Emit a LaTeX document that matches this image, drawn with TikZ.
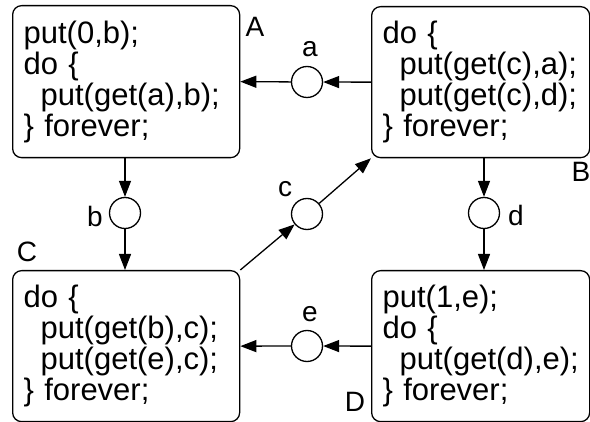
\documentclass[tikz,border=0pt]{standalone}
\usepackage{fontspec}
\setmainfont{Liberation Sans}
\usetikzlibrary{arrows.meta,positioning}

\newcommand{\ind}{\hspace*{17pt}}

\begin{document}
\begin{tikzpicture}[x=1pt,y=1pt,line width=1.3pt,
	proc/.style={draw,rounded corners=9pt,align=left,anchor=north west,inner xsep=11pt,inner ysep=0pt,font=\fontsize{31}{31}\selectfont},
	chan/.style={draw,circle,minimum size=31pt,inner sep=0pt},
	lbl/.style={inner sep=0pt,font=\fontsize{28}{28}\selectfont},
	>={Triangle[length=16pt,width=12pt]}]
		\useasboundingbox (0,0) rectangle (590,-422);

		% the four processes
		\node[proc,text width=205pt,minimum height=152pt] (A) at (12,-5) {put(0,b);\\do \{\\\ind put(get(a),b);\\\} forever;};
		\node[proc,text width=196pt,minimum height=151pt] (B) at (371,-6) {do \{\\\ind put(get(c),a);\\\ind put(get(c),d);\\\} forever;};
		\node[proc,text width=205pt,minimum height=151pt] (C) at (12,-270) {do \{\\\ind put(get(b),c);\\\ind put(get(e),c);\\\} forever;};
		\node[proc,text width=196pt,minimum height=151pt] (D) at (371,-270) {put(1,e);\\do \{\\\ind put(get(d),e);\\\} forever;};

		\node[lbl] (labA) at (255,-27) {A};
		\node[lbl] (labB) at (581,-172) {B};
		\node[lbl] (labC) at (27,-252) {C};
		\node[lbl] (labD) at (355,-402) {D};

		% channels
		\node[chan] (a) at (307,-82) {};
		\node[chan] (b) at (125,-213) {};
		\node[chan] (c) at (307,-214) {};
		\node[chan] (d) at (484,-213) {};
		\node[chan] (e) at (307,-346) {};

		\node[lbl] (laba) at (310,-49) {a};
		\node[lbl] (labb) at (95,-216) {b};
		\node[lbl] (labc) at (285,-189) {c};
		\node[lbl] (labd) at (516,-215) {d};
		\node[lbl] (labe) at (310,-314) {e};

		\draw[->] (B.west) -- (a);
		\draw[->] (a) -- (A.east);

		\draw[->] (b |- A.south) -- (b);
		\draw[->] (b) -- (b |- C.north);

		\draw[->] (C.north east) -- (c);
		\draw[->] (c) -- (B.south west);

		\draw[->] (d |- B.south) -- (d);
		\draw[->] (d) -- (d |- D.north);

		\draw[->] (D.west) -- (e);
		\draw[->] (e) -- (C.east);
\end{tikzpicture}
\end{document}
